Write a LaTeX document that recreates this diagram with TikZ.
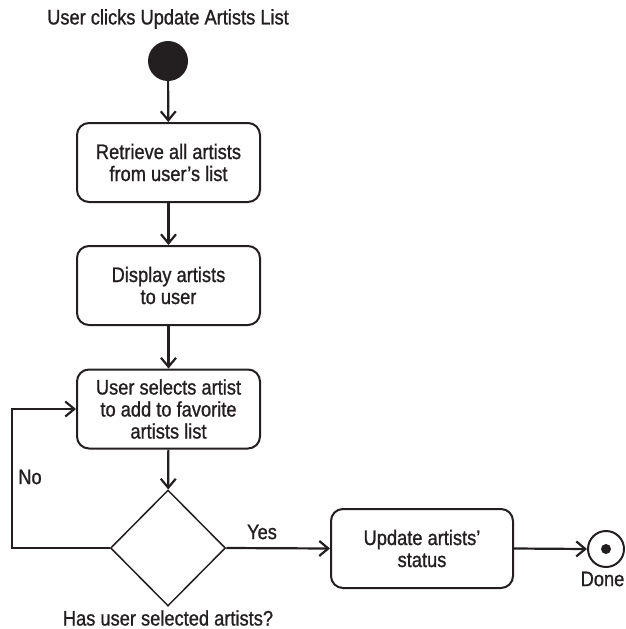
\documentclass[tikz,border=0pt]{standalone}
\usepackage{fontspec}
\setmainfont{Liberation Sans}[FakeStretch=0.87,FakeBold=1.0]
\usetikzlibrary{shapes.geometric,arrows.meta}
\definecolor{ink}{HTML}{231F20}
\begin{document}
\begin{tikzpicture}[x=1pt,y=-1pt,
  every node/.style={text=ink, font=\fontsize{21}{22}\selectfont},
  activity/.style={draw=ink, line width=2pt, rounded corners=12pt,
    minimum width=183pt, minimum height=79pt, align=center, inner sep=0pt},
  decision/.style={draw=ink, line width=1.5pt, diamond, inner sep=0pt,
    minimum width=115pt, minimum height=116pt},
  flow/.style={draw=ink, line width=2.2pt,
    -{Straight Barb[length=9pt,width=15pt,line width=2.2pt]}},
  lbl/.style={inner sep=0pt}]
\useasboundingbox (0,0) rectangle (625,629);

% start, title
\node[lbl] (title) at (168,19) {User clicks Update Artists List};
\node[circle, fill=ink, minimum size=40pt, inner sep=0pt] (start) at (168,61) {};

% activities
\node[activity] (b1) at (168.5,162.5) {Retrieve all artists\\from user’s list};
\node[activity] (b2) at (168.5,285.5) {Display artists\\to user};
\node[activity] (b3) at (168.5,409) {User selects artist\\to add to favorite\\artists list};
\node[decision] (d) at (168,548) {};
\node[lbl] (dq) at (168,618) {Has user selected artists?};
\node[activity, minimum width=182pt] (b4) at (422,548.5) {Update artists’\\status};

% final state
\node[circle, draw=ink, line width=2pt, minimum size=36pt, inner sep=0pt] (end) at (606,549) {};
\node[circle, fill=ink, minimum size=10pt, inner sep=0pt] (enddot) at (end.center) {};
\node[lbl] (done) at (602.5,579) {Done};

% branch labels
\node[lbl] (no) at (30,477) {No};
\node[lbl] (yes) at (262,532) {Yes};

% connectors
\draw[flow] (start) -- (b1);
\draw[flow] (b1) -- (b2);
\draw[flow] (b2) -- (b3);
\draw[flow] (b3) -- (d);
\coordinate (loop) at (12,409);
\draw[flow] (d.west) -| (loop) -- (b3.west);
\draw[flow] (d.east) -- (b4.west);
\draw[flow] (b4.east) -- (end.west);
\end{tikzpicture}
\end{document}
